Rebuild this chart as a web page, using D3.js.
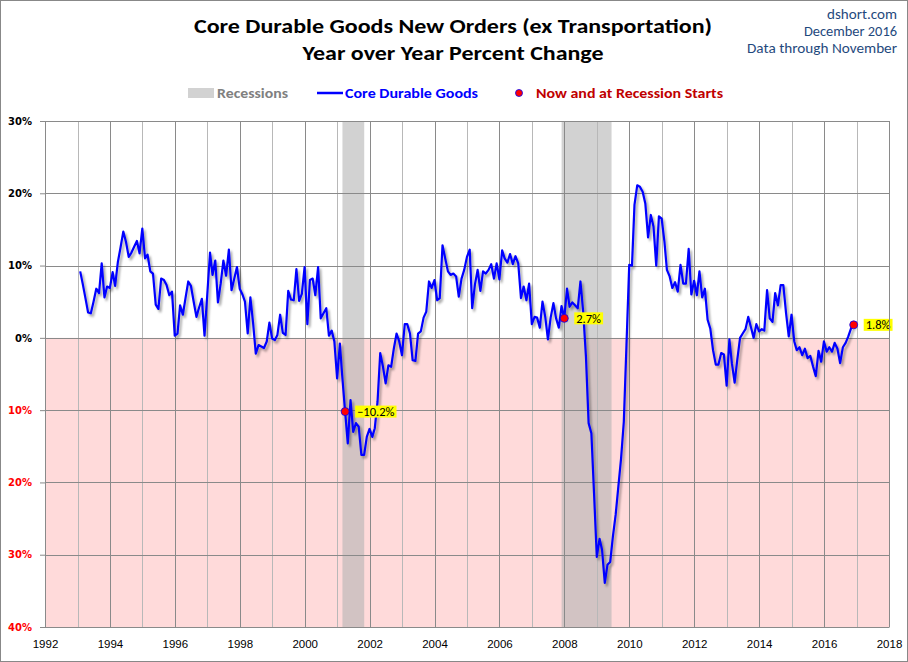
<!DOCTYPE html>
<html><head><meta charset="utf-8">
<script src="https://cdn.jsdelivr.net/npm/d3@7"></script>
<style>body{margin:0;background:#fff}svg{display:block}</style>
</head><body>
<svg id="chart" width="908" height="662"></svg>
<script>
// ---- data ----
const firstYear = 1993; // monthly series starting January 1993, ending November 2016
const values = [
  9.2, 7.5, 5.5, 3.5, 3.4, 5.0, 6.8, 6.2, 10.3, 5.6, 7.1, 6.9,          // 1993
  9.1, 7.2, 10.5, 12.5, 14.7, 13.3, 11.2, 11.8, 12.6, 13.4, 11.7, 15.1, // 1994
  11.0, 11.5, 9.2, 8.9, 4.6, 4.0, 8.2, 8.0, 7.3, 5.9, 6.4, 0.3,         // 1995
  0.6, 4.5, 3.2, 5.5, 7.8, 7.2, 5.0, 2.9, 4.2, 5.4, 0.3, 6.0,           // 1996
  11.8, 8.7, 10.7, 4.9, 7.5, 10.7, 8.6, 12.2, 6.6, 8.2, 9.8, 6.8,       // 1997
  6.0, 5.0, 0.6, 5.6, 2.0, -2.2, -1.0, -1.2, -1.4, -0.5, 2.1, -0.1,     // 1998
  -0.3, 0.4, 3.2, 0.7, 0.4, 6.5, 5.3, 5.2, 9.5, 5.1, 6.1, 9.8,          // 1999
  1.9, 8.0, 8.2, 5.9, 9.8, 2.7, 3.4, 4.1, 0.3, 1.0, -0.5, -5.6,         // 2000
  -0.8, -5.5, -10.2, -14.6, -8.6, -13.0, -11.8, -12.3, -16.2, -16.2, -13.7, -12.6, // 2001
  -13.7, -12.5, -8.8, -2.1, -4.0, -6.3, -3.8, -4.0, -1.5, 0.6, -0.5, -2.4,         // 2002
  1.9, 1.9, 0.6, -3.1, -3.2, 0.6, 0.9, 2.8, 3.6, 7.8, 6.9, 8.0,         // 2003
  5.2, 5.5, 12.8, 11.0, 9.2, 8.7, 8.9, 8.5, 5.7, 8.2, 9.4, 11.2,        // 2004
  12.2, 4.1, 7.4, 9.4, 6.5, 9.2, 8.9, 9.4, 10.2, 8.2, 10.3, 8.1,        // 2005
  12.1, 11.0, 10.4, 11.6, 10.2, 11.3, 10.3, 5.5, 7.1, 5.2, 7.5, 1.9,    // 2006
  2.9, 2.8, 1.4, 5.0, 2.9, -0.2, 2.8, 4.8, 2.7, 1.4, 4.4, 2.7,          // 2007
  6.8, 4.3, 4.9, 4.5, 4.1, 7.8, 3.6, -2.6, -11.8, -13.2, -21.5, -30.3,  // 2008
  -27.8, -29.3, -33.9, -31.4, -31.0, -27.5, -24.5, -20.5, -16.7, -11.6, -1.0, 10.1, // 2009
  10.0, 18.4, 21.1, 20.9, 20.2, 18.6, 13.9, 17.0, 15.4, 10.0, 16.8, 16.5, // 2010
  13.3, 9.4, 8.5, 6.9, 7.7, 6.4, 10.1, 7.5, 7.5, 12.3, 6.0, 7.9,        // 2011
  5.9, 9.2, 5.6, 6.8, 2.5, 1.3, -1.7, -3.7, -3.7, -2.1, -2.3, -6.6,     // 2012
  -0.2, -3.5, -6.2, -3.0, 0.0, 0.6, 1.2, 2.9, 1.5, 0.0, 1.9, 0.9,       // 2013
  1.2, 1.0, 6.6, 2.7, 2.2, 6.2, 4.5, 7.3, 7.3, 3.4, 0.2, 3.2,           // 2014
  -0.5, -1.7, -1.3, -2.4, -1.5, -2.8, -2.5, -4.0, -5.3, -1.8, -3.3, -0.5, // 2015
  -1.9, -1.3, -1.9, -0.7, -1.5, -3.5, -1.3, -0.7, 0.2, 1.3, 1.8         // 2016
];
const recessions = [["2001-03-01", "2001-11-01"], ["2007-12-01", "2009-06-15"]];
const highlightMonths = ["2001-03", "2007-12", "2016-11"]; // now and recession starts
const yTicks = [30, 20, 10, 0, -10, -20, -30, -40];
const xTickYears = [1992, 1994, 1996, 1998, 2000, 2002, 2004, 2006, 2008, 2010, 2012, 2014, 2016, 2018];
const gridYears = d3.range(1992, 2019);
const titleLines = ["Core Durable Goods New Orders (ex Transportation)", "Year over Year Percent Change"];
const sourceLines = ["dshort.com", "December 2016", "Data through November"];
const legendLabels = ["Recessions", "Core Durable Goods", "Now and at Recession Starts"];

// ---- build ----
const series = values.map((v, i) => ({date: new Date(firstYear, i + 1, 0), value: v, key: d3.timeFormat("%Y-%m")(new Date(firstYear, i, 1))}));

const W = 908, H = 662;
const L = 45, R = 889, T = 121, B = 627;
const svg = d3.select("#chart");
const x = d3.scaleTime().domain([new Date(1992, 0, 1), new Date(2018, 0, 1)]).range([L, R]);
const y = d3.scaleLinear().domain([-40, 30]).range([B, T]);
const parse = d3.timeParse("%Y-%m-%d");
const FONT = "Carlito, Lato, 'Open Sans', sans-serif";

const defs = svg.append("defs");
const f = defs.append("filter").attr("id", "shadow").attr("x", "-5%").attr("y", "-5%").attr("width", "110%").attr("height", "110%");
f.append("feDropShadow").attr("dx", 2).attr("dy", 2.5).attr("stdDeviation", 1.3).attr("flood-color", "#000").attr("flood-opacity", 0.35);

svg.append("rect").attr("width", W).attr("height", H).attr("fill", "#fff");

// plot background
svg.append("rect").attr("x", L).attr("y", T).attr("width", R - L).attr("height", B - T).attr("fill", "#fff");
svg.append("rect").attr("x", L).attr("y", y(0)).attr("width", R - L).attr("height", y(-40) - y(0)).attr("fill", "#ffdada");

// recessions
svg.append("g").selectAll("rect").data(recessions).join("rect")
  .attr("x", d => x(parse(d[0]))).attr("width", d => x(parse(d[1])) - x(parse(d[0])))
  .attr("y", T).attr("height", B - T).attr("fill", "#b4b4b4").attr("opacity", 0.6);

// grid
const grid = svg.append("g");
grid.selectAll(".vg").data(gridYears).join("line")
  .attr("x1", d => Math.round(x(new Date(d, 0, 1))) + 0.5).attr("x2", d => Math.round(x(new Date(d, 0, 1))) + 0.5)
  .attr("y1", T).attr("y2", B)
  .attr("stroke", d => d % 2 === 0 ? "#8a8a8a" : "#b8b8b8").attr("stroke-width", 1);
grid.selectAll(".hg").data(yTicks).join("line")
  .attr("x1", L).attr("x2", R)
  .attr("y1", d => Math.round(y(d)) + 0.5).attr("y2", d => Math.round(y(d)) + 0.5)
  .attr("stroke", "#8a8a8a").attr("stroke-width", 1);

// line
const line = d3.line().x(d => x(d.date)).y(d => y(d.value));
svg.append("path").datum(series).attr("d", line)
  .attr("fill", "none").attr("stroke", "#0000ff").attr("stroke-width", 2.2)
  .attr("stroke-linejoin", "round").attr("filter", "url(#shadow)");

// highlight points
const hp = series.filter(d => highlightMonths.includes(d.key));
const hg = svg.append("g").selectAll("g").data(hp).join("g");
hg.append("circle").attr("cx", d => x(d.date)).attr("cy", d => y(d.value)).attr("r", 4)
  .attr("fill", "#ff0000").attr("stroke", "#0000ff").attr("stroke-width", 0.8);
hg.each(function(d) {
  const g = d3.select(this);
  const t = g.append("text").attr("x", x(d.date) + 12).attr("y", y(d.value) + 4.5)
    .attr("font-family", FONT).attr("font-size", 12.5).attr("fill", "#000")
    .text(d3.format(".1f")(d.value) + "%");
  const bb = t.node().getBBox();
  g.insert("rect", "text").attr("x", bb.x - 2).attr("y", y(d.value) - 6).attr("width", bb.width + 4).attr("height", 12)
    .attr("fill", "#ffff00");
});

// axes
const yAxis = svg.append("g").attr("transform", `translate(${L},0)`)
  .call(d3.axisLeft(y).tickValues(yTicks).tickSize(5).tickSizeOuter(0).tickPadding(8).tickFormat(d => Math.abs(d) + "%"));
yAxis.select(".domain").attr("stroke", "#8a8a8a");
yAxis.selectAll(".tick line").attr("stroke", "#8a8a8a");
yAxis.selectAll(".tick text").attr("font-family", "'DejaVu Sans', Verdana, sans-serif").attr("font-weight", "bold")
  .attr("font-size", 10).attr("fill", d => d < 0 ? "#ff0000" : "#000");

const xAxis = svg.append("g").attr("transform", `translate(0,${B})`)
  .call(d3.axisBottom(x).tickValues(xTickYears.map(yr => new Date(yr, 0, 1))).tickSize(0).tickPadding(13).tickFormat(d3.timeFormat("%Y")));
xAxis.select(".domain").attr("stroke", "#8a8a8a");
xAxis.selectAll(".tick text").attr("font-family", "'Liberation Sans', Arial, sans-serif").attr("font-size", 11.5).attr("fill", "#000");

// plot border right
svg.append("line").attr("x1", R + 0.5).attr("x2", R + 0.5).attr("y1", T).attr("y2", B).attr("stroke", "#8a8a8a");

// titles
const tl = [{t: titleLines[0], y: 33, w: 518}, {t: titleLines[1], y: 60, w: 301}];
svg.selectAll(".title").data(tl).join("text").attr("class", "title")
  .attr("x", 453).attr("y", d => d.y).attr("text-anchor", "middle")
  .attr("font-family", FONT).attr("font-weight", "bold").attr("font-size", 21).attr("fill", "#000")
  .attr("textLength", d => d.w).attr("lengthAdjust", "spacingAndGlyphs").text(d => d.t);

const sl = [{t: sourceLines[0], y: 19, w: 70}, {t: sourceLines[1], y: 36, w: 93}, {t: sourceLines[2], y: 53, w: 150}];
svg.selectAll(".src").data(sl).join("text").attr("class", "src")
  .attr("x", 897).attr("y", d => d.y).attr("text-anchor", "end")
  .attr("font-family", FONT).attr("font-size", 14).attr("fill", "#1f497d")
  .attr("textLength", d => d.w).attr("lengthAdjust", "spacingAndGlyphs").text(d => d.t);

// legend
const lg = svg.append("g");
lg.append("rect").attr("x", 188).attr("y", 88).attr("width", 26).attr("height", 10).attr("fill", "#b4b4b4").attr("opacity", 0.6);
lg.append("line").attr("x1", 317).attr("x2", 343).attr("y1", 93).attr("y2", 93).attr("stroke", "#0000ff").attr("stroke-width", 2.5);
lg.append("circle").attr("cx", 519).attr("cy", 93).attr("r", 3.5).attr("fill", "#ff0000").attr("stroke", "#0000ff").attr("stroke-width", 0.8);
const li = [{t: legendLabels[0], x: 217, w: 71, c: "#808080"}, {t: legendLabels[1], x: 345, w: 133, c: "#0000ff"}, {t: legendLabels[2], x: 536, w: 187, c: "#c00000"}];
lg.selectAll("text").data(li).join("text").attr("x", d => d.x).attr("y", 98)
  .attr("font-family", FONT).attr("font-weight", "bold").attr("font-size", 14).attr("fill", d => d.c)
  .attr("textLength", d => d.w).attr("lengthAdjust", "spacingAndGlyphs").text(d => d.t);

// outer border
svg.append("rect").attr("x", 0.5).attr("y", 0.5).attr("width", W - 1).attr("height", H - 1).attr("fill", "none").attr("stroke", "#888");
</script>
</body></html>
